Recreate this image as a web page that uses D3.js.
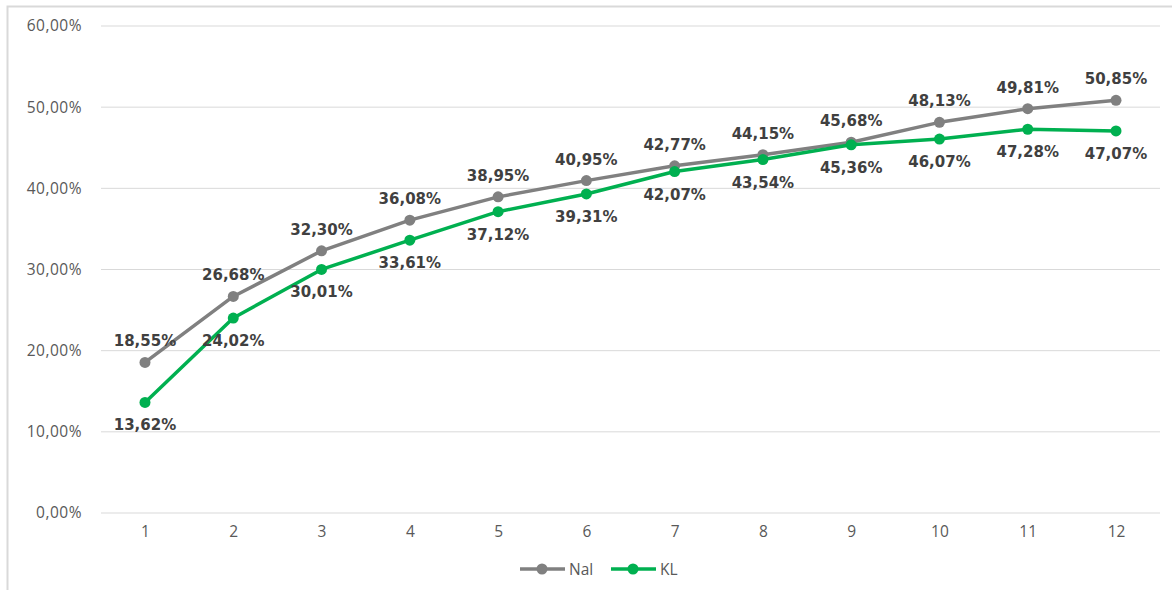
<!DOCTYPE html>
<html><head><meta charset="utf-8">
<script src="https://cdn.jsdelivr.net/npm/d3@7"></script>
<style>body{margin:0;background:#fff}svg{display:block}</style>
</head><body><svg id="c" width="1172" height="590"></svg>
<script>
const categories = ["1","2","3","4","5","6","7","8","9","10","11","12"];
const nal = [18.55,26.68,32.30,36.08,38.95,40.95,42.77,44.15,45.68,48.13,49.81,50.85];
const kl  = [13.62,24.02,30.01,33.61,37.12,39.31,42.07,43.54,45.36,46.07,47.28,47.07];
const yTicks = [0,10,20,30,40,50,60];
const seriesNames = ["Nal","KL"];
const colors = ["#808080","#00b050"];

const svg = d3.select("#c");
svg.append("rect").attr("x",7.5).attr("y",6.5).attr("width",1170).attr("height",600)
  .attr("fill","#fff").attr("stroke","#d9d9d9").attr("stroke-width",2);

const x = d3.scalePoint().domain(categories).range([145,1116]);
const y = d3.scaleLinear().domain([0,60]).range([513,26]);
const fmt = v => v.toFixed(2).replace(".", ",") + "%";

svg.append("g").selectAll("line").data(yTicks).join("line")
  .attr("x1",101).attr("x2",1160).attr("y1",d=>y(d)).attr("y2",d=>y(d))
  .attr("stroke","#d9d9d9").attr("stroke-width",1);

const axisFont = "'Open Sans', 'Noto Sans', sans-serif";
const yAxis = d3.axisLeft(y).tickValues(yTicks).tickSize(0).tickPadding(0).tickFormat(fmt);
const gy = svg.append("g").attr("transform","translate(82,0)").call(yAxis);
gy.select(".domain").remove();
gy.selectAll("text").attr("fill","#595959").attr("font-size",15.5).attr("font-family",axisFont)
  .attr("letter-spacing","0.5px");

const xAxis = d3.axisBottom(x).tickSize(0).tickPadding(0);
const gx = svg.append("g").attr("transform","translate(0,526)").call(xAxis);
gx.select(".domain").remove();
gx.selectAll("text").attr("fill","#595959").attr("font-size",15.5).attr("font-family",axisFont);

const data = [nal, kl];
const line = d3.line().x((d,i)=>x(categories[i])).y(d=>y(d));
data.forEach((vals,si)=>{
  svg.append("path").datum(vals).attr("d",line).attr("fill","none")
    .attr("stroke",colors[si]).attr("stroke-width",3.5).attr("stroke-linejoin","round");
  svg.append("g").selectAll("circle").data(vals).join("circle")
    .attr("cx",(d,i)=>x(categories[i])).attr("cy",d=>y(d)).attr("r",5.5).attr("fill",colors[si]);
});
data.forEach((vals,si)=>{
  svg.append("g").selectAll("text").data(vals).join("text")
    .attr("x",(d,i)=>x(categories[i]))
    .attr("y",d=> si===0 ? y(d)-16 : y(d)+28)
    .attr("text-anchor","middle")
    .attr("font-family","'DejaVu Sans', Verdana, sans-serif").attr("font-weight","bold")
    .attr("font-size",15).attr("fill","#404040")
    .text(fmt);
});

const leg = svg.append("g");
const legItems = [{n:"Nal",x0:520},{n:"KL",x0:611}];
legItems.forEach((it,i)=>{
  leg.append("line").attr("x1",it.x0).attr("x2",it.x0+45).attr("y1",569).attr("y2",569)
    .attr("stroke",colors[i]).attr("stroke-width",3.5);
  leg.append("circle").attr("cx",it.x0+22).attr("cy",569).attr("r",5.5).attr("fill",colors[i]);
  leg.append("text").attr("x",it.x0+49).attr("y",575).text(seriesNames[i])
    .attr("font-family",axisFont).attr("font-size",15.5).attr("fill","#595959");
});
</script></body></html>
